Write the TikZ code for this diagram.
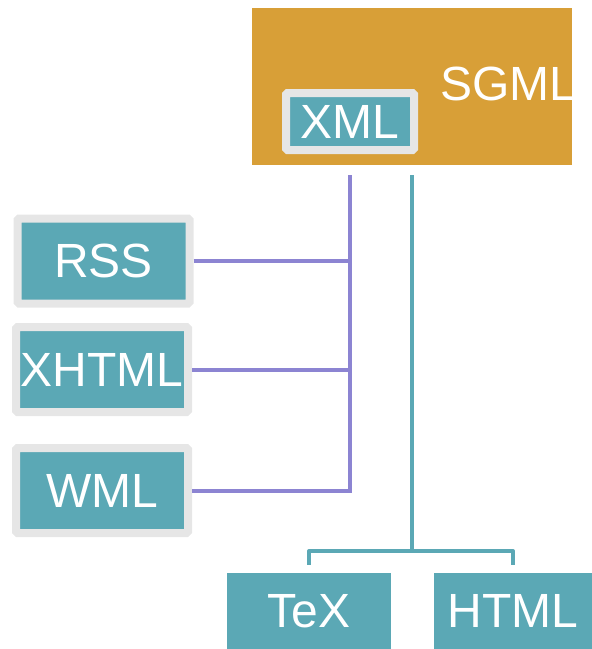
\documentclass[tikz,border=0pt]{standalone}
\usepackage{fontspec}
\setmainfont{Liberation Sans}
\usepackage{xcolor}
\usepackage{tikz}
\usetikzlibrary{positioning,calc}
\definecolor{sgmlorange}{HTML}{D89F37}
\definecolor{langteal}{HTML}{5BA8B5}
\definecolor{framegray}{HTML}{E6E6E6}
\definecolor{xmlpurple}{HTML}{8C84D2}

\begin{document}
\begin{tikzpicture}[
  x=1pt, y=-1pt,
  lang/.style={fill=langteal, text=white, inner sep=0pt,
               font=\fontsize{48}{48}\selectfont},
  framed/.style={lang, draw=framegray, line width=8pt, rounded corners=1.5pt,
                 minimum width=172pt, minimum height=85pt},
  plain/.style={lang, minimum height=76pt},
  xmlln/.style={draw=xmlpurple, line width=4pt},
  sgmlln/.style={draw=langteal, line width=4pt, line join=round}
]
\useasboundingbox (0,0) rectangle (592,649);
% the SGML family
\node[fill=sgmlorange, minimum width=320pt, minimum height=157pt, inner sep=0pt] (sgml) at (412,86.5) {};
\node[text=white, inner sep=0pt, anchor=base west, font=\fontsize{48}{48}\selectfont] (sgmllbl) at (440,100) {SGML};
\node[framed, minimum width=128pt, minimum height=57pt] (xml) at (350,121.5) {XML};
% XML applications
\node[framed] (rss) at (103.5,261) {RSS};
\node[framed] (xhtml) at (102,369.5) {XHTML};
\node[framed] (wml) at (102,490.5) {WML};
% other SGML descendants
\node[plain, minimum width=164pt] (tex) at (309,611) {TeX};
\node[plain, minimum width=158pt] (html) at (513,611) {HTML};
\coordinate (fork) at (412,551);
% connectors
\draw[xmlln] ([yshift=-10pt]sgml.south -| xml.center) |- (wml.east);
\draw[xmlln] (rss.east) -- (rss.east -| xml.center);
\draw[xmlln] (xhtml.east) -- (xhtml.east -| xml.center);
\draw[sgmlln] ([yshift=-10pt]sgml.south) -- (fork);
\draw[sgmlln] ([yshift=8pt]tex.north) |- (fork) -| ([yshift=8pt]html.north);
\end{tikzpicture}
\end{document}
